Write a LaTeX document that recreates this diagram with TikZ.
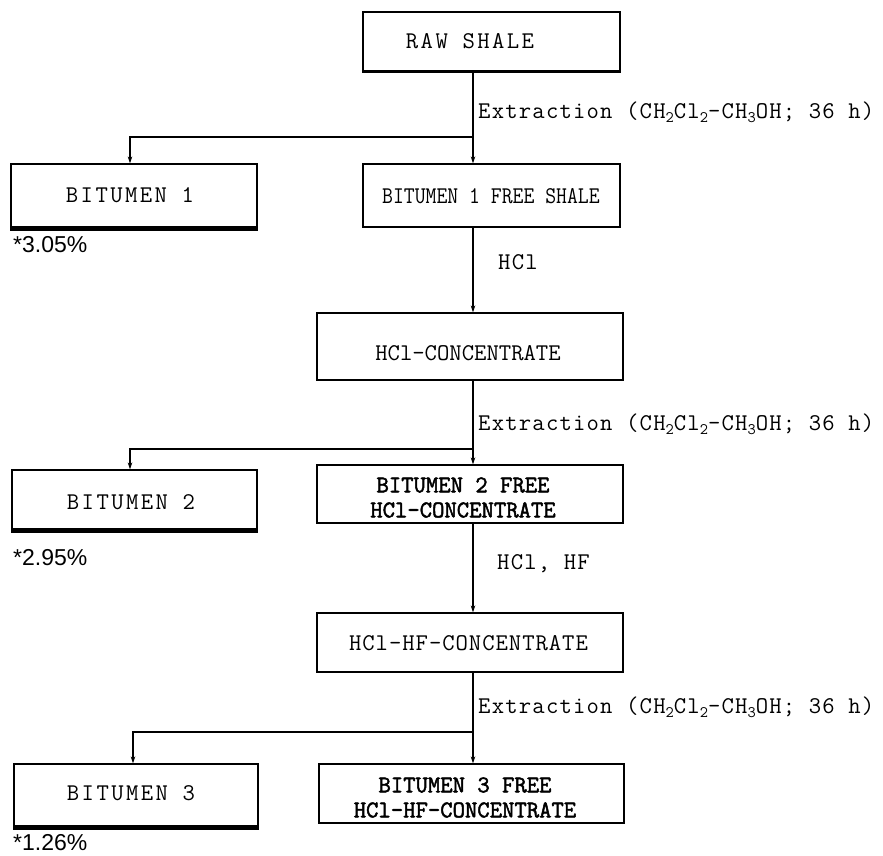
\documentclass[tikz,border=0pt]{standalone}
\usepackage{fontspec}
\setmainfont{Latin Modern Mono}
\newfontfamily\ttbold[FakeBold=2]{Latin Modern Mono}
\newfontfamily\ttnarrow[FakeStretch=0.88]{Latin Modern Mono}
\newfontfamily\pctfont{Liberation Sans}
\usetikzlibrary{arrows.meta}
\newcommand\subs[1]{\raisebox{-0.35ex}{\fontsize{16}{16}\selectfont #1}}
\begin{document}
\begin{tikzpicture}[x=1pt,y=-1pt,
  box/.style={draw, line width=1.2pt, rectangle, inner sep=0pt},
  txt/.style={inner sep=0pt, font=\fontsize{24}{25}\selectfont},
  wide/.style={txt, font=\fontsize{24}{25}\selectfont\addfontfeature{LetterSpace=10}},
  boldtxt/.style={txt, align=center, font=\ttbold\fontsize{24}{25}\selectfont},
  cond/.style={inner sep=0pt, anchor=west, font=\fontsize{24}{25}\selectfont\addfontfeature{LetterSpace=5}},
  pct/.style={inner sep=0pt, anchor=west, font=\pctfont\fontsize{23}{26}\selectfont},
  conn/.style={line width=1.2pt},
  arr/.style={line width=1.2pt, -{Stealth[length=7pt,width=4.5pt]}},
  heavy/.style={line width=5pt}
]
\useasboundingbox (0,0) rectangle (883,856);

% boxes
\node[box, minimum width=257pt, minimum height=59pt] (raw) at (491.5,41.5) {};
\node[wide] (rawt) at (470,41.5) {RAW SHALE};

\node[box, minimum width=246pt, minimum height=64pt] (b1) at (134,196) {};
\node[wide] (b1t) at (130,195) {BITUMEN 1};
\node[box, minimum width=257pt, minimum height=63pt] (f1) at (491.5,195.5) {};
\node[txt, font=\ttnarrow\fontsize{24}{25}\selectfont] (f1t) at (491,196) {BITUMEN 1 FREE SHALE};

\node[box, minimum width=306pt, minimum height=67pt] (hcl) at (470,346.5) {};
\node[txt] (hclt) at (468,353) {HCl-CONCENTRATE};

\node[box, minimum width=245pt, minimum height=60pt] (b2) at (134.5,500) {};
\node[wide] (b2t) at (131,502) {BITUMEN 2};
\node[box, minimum width=306pt, minimum height=58pt] (f2) at (470,494) {};
\node[boldtxt] (f2t) at (463,497.5) {BITUMEN 2 FREE\\HCl-CONCENTRATE};

\node[box, minimum width=306pt, minimum height=59pt] (hf) at (470,642.5) {};
\node[txt] (hft) at (468.5,643) {\addfontfeature{LetterSpace=4}HCl-HF-CONCENTRATE};

\node[box, minimum width=244pt, minimum height=63pt] (b3) at (136,795.5) {};
\node[wide] (b3t) at (131,793) {BITUMEN 3};
\node[box, minimum width=305pt, minimum height=59pt] (f3) at (471.5,793.5) {};
\node[boldtxt] (f3t) at (465,797.5) {BITUMEN 3 FREE\\HCl-HF-CONCENTRATE};

% heavy bottoms
\draw[heavy] (b1.south west) -- (b1.south east);
\draw[heavy] (b2.south west) -- (b2.south east);
\draw[heavy] (b3.south west) -- (b3.south east);
\draw[line width=2.6pt] (raw.south west) -- (raw.south east);

% percentages
\node[pct] (p1) at (13,245) {*3.05\%};
\node[pct] (p2) at (13,558) {*2.95\%};
\node[pct] (p3) at (13,843) {*1.26\%};

% conditions
\node[cond] (c1) at (478,112) {Extraction (CH\subs{2}Cl\subs{2}-CH\subs{3}OH; 36 h)};
\node[cond] (c2) at (498,262) {HCl};
\node[cond] (c3) at (478,424) {Extraction (CH\subs{2}Cl\subs{2}-CH\subs{3}OH; 36 h)};
\node[cond] (c4) at (497,564) {HCl, HF};
\node[cond] (c5) at (478,707) {Extraction (CH\subs{2}Cl\subs{2}-CH\subs{3}OH; 36 h)};

% connectors
\coordinate (m) at (473,0);
\coordinate (j1) at (473,137);
\coordinate (d1) at (130,0);
\coordinate (j2) at (473,449);
\coordinate (d2) at (130,0);
\coordinate (j3) at (473,732);
\coordinate (d3) at (133,0);

\draw[arr] (raw.south -| m) -- (f1.north -| m);
\draw[arr] (j1) -| (b1.north -| d1);
\draw[arr] (f1.south -| m) -- (hcl.north -| m);
\draw[arr] (hcl.south -| m) -- (f2.north -| m);
\draw[arr] (j2) -| (b2.north -| d2);
\draw[arr] (f2.south -| m) -- (hf.north -| m);
\draw[arr] (hf.south -| m) -- (f3.north -| m);
\draw[arr] (j3) -| (b3.north -| d3);
\end{tikzpicture}
\end{document}
